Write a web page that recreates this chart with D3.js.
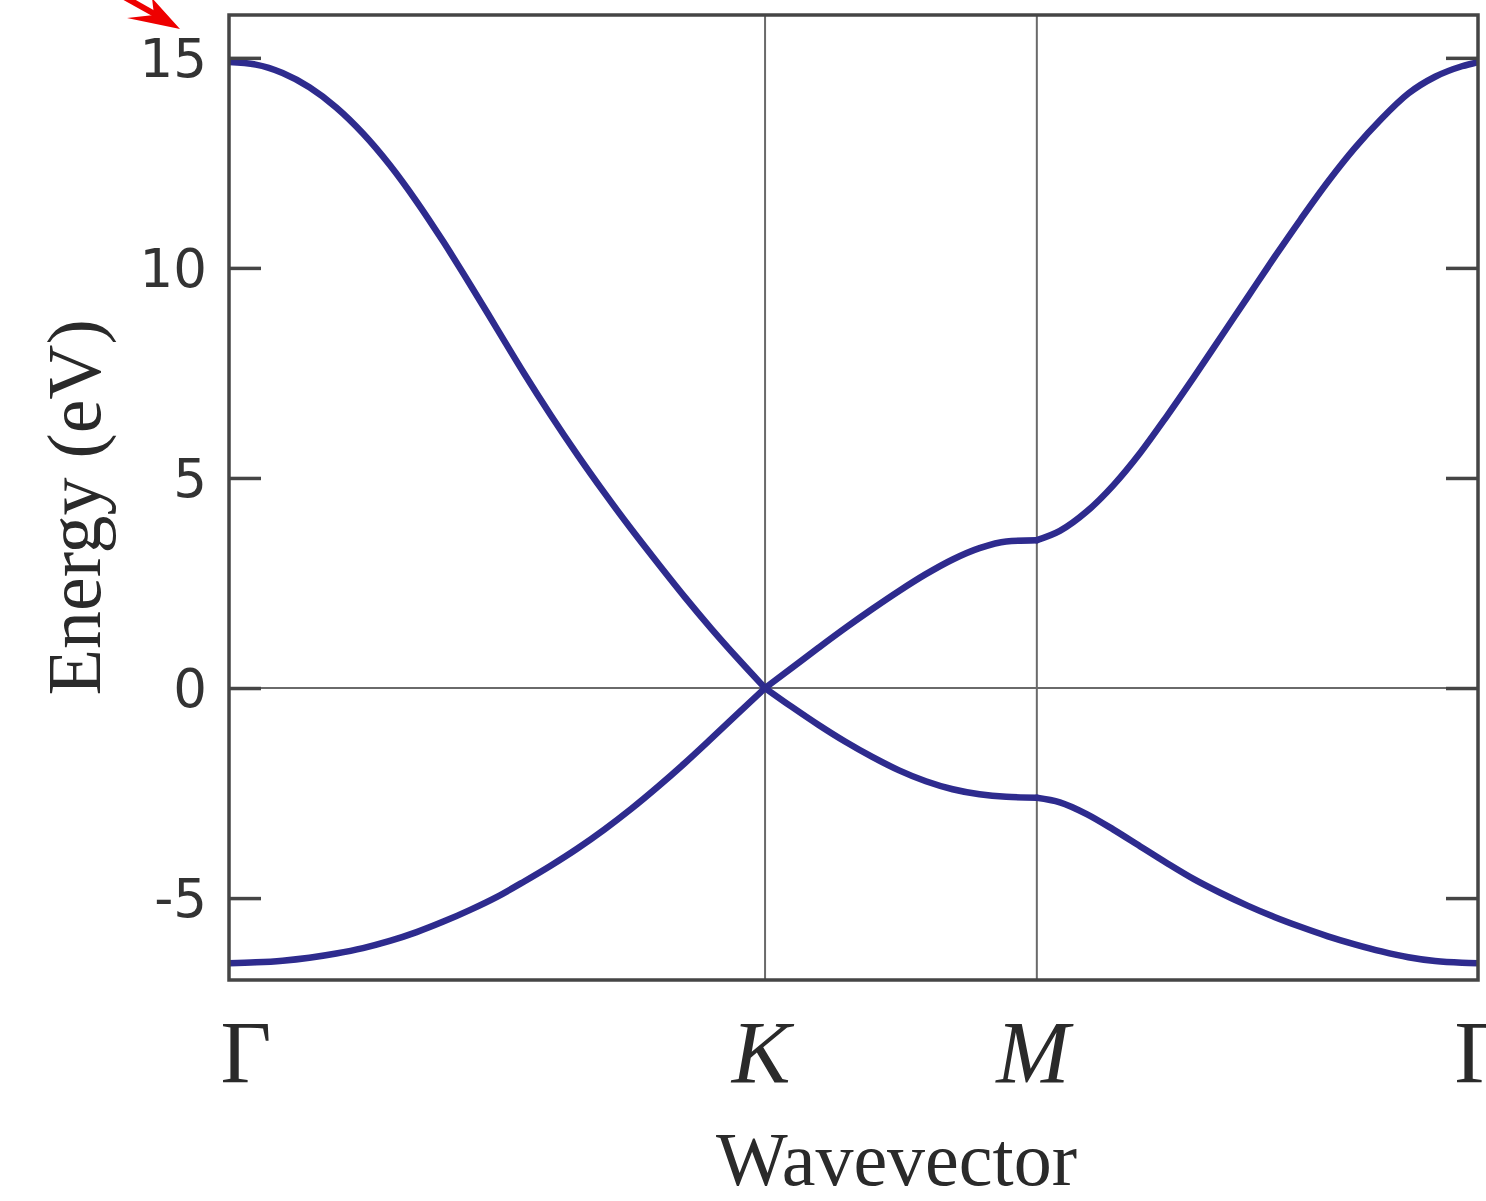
<!DOCTYPE html>
<html>
<head>
<meta charset="utf-8">
<script src="https://cdn.jsdelivr.net/npm/d3@7"></script>
<style>
  html, body { margin: 0; padding: 0; background: #ffffff; }
  svg { display: block; }
</style>
</head>
<body>
<svg id="chart" width="1486" height="1201"></svg>
<script>
// Graphene band structure along the Γ–K–M–Γ path.

// Path coordinate (Γ–K length = 1)
const kPath = [
  0, 0.05, 0.1, 0.15, 0.2, 0.25, 0.3, 0.35, 0.4, 0.45, 0.5,
  0.55, 0.6, 0.65, 0.7, 0.75, 0.8, 0.85, 0.9, 0.95, 1.0,
  1.05, 1.1, 1.15, 1.2, 1.25, 1.3, 1.35, 1.4, 1.45, 1.507,
  1.55, 1.6, 1.65, 1.7, 1.75, 1.8, 1.85, 1.9, 1.95, 2.0,
  2.05, 2.1, 2.15, 2.2, 2.25, 2.3, 2.33
];

// π* (conduction) band, eV
const upperBand = [
  14.9, 14.84, 14.64, 14.3, 13.82, 13.2, 12.45, 11.58, 10.62, 9.6, 8.55,
  7.5, 6.5, 5.55, 4.65, 3.79, 2.97, 2.17, 1.41, 0.69, 0,
  0.48, 0.96, 1.43, 1.88, 2.31, 2.71, 3.06, 3.33, 3.49, 3.52,
  3.74, 4.2, 4.83, 5.6, 6.48, 7.4, 8.35, 9.3, 10.25, 11.17,
  12.05, 12.85, 13.55, 14.15, 14.55, 14.8, 14.9
];

// π (valence) band, eV
const lowerBand = [
  -6.55, -6.53, -6.49, -6.42, -6.32, -6.19, -6.02, -5.81, -5.56, -5.28, -4.97,
  -4.61, -4.23, -3.82, -3.37, -2.88, -2.35, -1.79, -1.2, -0.6, 0,
  -0.45, -0.88, -1.28, -1.64, -1.96, -2.22, -2.41, -2.53, -2.59, -2.61,
  -2.72, -3.0, -3.37, -3.77, -4.17, -4.55, -4.88, -5.18, -5.45, -5.69,
  -5.91, -6.1, -6.27, -6.41, -6.5, -6.54, -6.55
];

// High-symmetry points
const kTickValues = [0, 1.0, 1.507, 2.33];
const kTickLabels = ["Γ", "K", "M", "Γ"];
const kTickItalic = [false, true, true, false];

// Energy axis
const energyDomain = [-6.95, 16.02];
const energyTicks = [-5, 0, 5, 10, 15];
const energyTickLabels = ["-5", "0", "5", "10", "15"];

const svg = d3.select("#chart");
const W = 1486, H = 1201;
const margin = { top: 15, right: 8, bottom: 221, left: 229 };
const x0 = margin.left, x1 = W - margin.right;
const y0 = margin.top, y1 = H - margin.bottom;

const x = d3.scaleLinear().domain([kTickValues[0], kTickValues[3]]).range([x0, x1]);
const y = d3.scaleLinear().domain(energyDomain).range([y1, y0]);

const bandColor = "#2e2b8e";
const frameColor = "#454545";
const guideColor = "#6a6a6a";

svg.append("defs").append("clipPath").attr("id", "plot-clip")
  .append("rect").attr("x", x0).attr("y", y0).attr("width", x1 - x0).attr("height", y1 - y0);

// Guide lines at K, M and E = 0
const guides = svg.append("g");
kTickValues.slice(1, 3).forEach(k => {
  guides.append("line")
    .attr("x1", x(k)).attr("x2", x(k)).attr("y1", y0).attr("y2", y1)
    .attr("stroke", guideColor).attr("stroke-width", 2);
});
guides.append("line")
  .attr("x1", x0).attr("x2", x1).attr("y1", y(0)).attr("y2", y(0))
  .attr("stroke", guideColor).attr("stroke-width", 2);

// Bands, one path piece per segment of the k-path
const line = d3.line().x(d => x(d.k)).y(d => y(d.e)).curve(d3.curveMonotoneX);
const bands = [upperBand, lowerBand];
const bandGroup = svg.append("g").attr("clip-path", "url(#plot-clip)");
bands.forEach(values => {
  const pts = kPath.map((k, i) => ({ k, e: values[i] }));
  for (let s = 0; s < kTickValues.length - 1; s++) {
    const seg = pts.filter(p => p.k >= kTickValues[s] - 1e-9 && p.k <= kTickValues[s + 1] + 1e-9);
    bandGroup.append("path")
      .datum(seg)
      .attr("d", line)
      .attr("fill", "none")
      .attr("stroke", bandColor)
      .attr("stroke-width", 6.5)
      .attr("stroke-linecap", "round")
      .attr("stroke-linejoin", "round");
  }
});

// Frame
svg.append("rect")
  .attr("x", x0).attr("y", y0).attr("width", x1 - x0).attr("height", y1 - y0)
  .attr("fill", "none").attr("stroke", frameColor).attr("stroke-width", 3.5);

// Inward ticks on left and right
const tickLen = 32;
const leftAxis = d3.axisRight(y).tickValues(energyTicks).tickSize(tickLen).tickFormat("");
const rightAxis = d3.axisLeft(y).tickValues(energyTicks).tickSize(tickLen).tickFormat("");
[[leftAxis, x0], [rightAxis, x1]].forEach(([ax, pos]) => {
  const g = svg.append("g").attr("transform", `translate(${pos},0)`).call(ax);
  g.select(".domain").remove();
  g.selectAll(".tick line").attr("stroke", frameColor).attr("stroke-width", 3.5);
});

// Energy tick labels
svg.append("g").selectAll("text")
  .data(energyTicks)
  .join("text")
  .attr("x", x0 - 22)
  .attr("y", d => y(d))
  .attr("dy", "0.36em")
  .attr("text-anchor", "end")
  .attr("font-family", "'DejaVu Sans', sans-serif")
  .attr("font-size", 53)
  .attr("fill", "#333333")
  .text((d, i) => energyTickLabels[i]);

// High-symmetry point labels
svg.append("g").selectAll("text")
  .data(kTickValues)
  .join("text")
  .attr("x", d => x(d))
  .attr("dx", (d, i) => i === 0 ? 17 : (i === 3 ? 2 : -4))
  .attr("y", y1 + 102)
  .attr("text-anchor", "middle")
  .attr("font-family", "'Liberation Serif', 'Times New Roman', serif")
  .attr("font-size", 88)
  .attr("font-style", (d, i) => kTickItalic[i] ? "italic" : "normal")
  .attr("fill", "#2a2a2a")
  .text((d, i) => kTickLabels[i]);

// Axis titles
svg.append("text")
  .attr("x", (x0 + x1) / 2 + 43)
  .attr("y", y1 + 205)
  .attr("text-anchor", "middle")
  .attr("font-family", "'Liberation Serif', 'Times New Roman', serif")
  .attr("font-size", 76)
  .attr("fill", "#2a2a2a")
  .text("Wavevector");

svg.append("text")
  .attr("transform", `translate(${x0 - 129},${y(4.3)}) rotate(-90)`)
  .attr("text-anchor", "middle")
  .attr("font-family", "'Liberation Serif', 'Times New Roman', serif")
  .attr("font-size", 76)
  .attr("fill", "#2a2a2a")
  .text("Energy (eV)");

// Red pointer toward the top of the energy axis
const tipX = x0 - 49, tipY = y0 + 14;
const arrow = svg.append("g").attr("fill", "#ee0000").attr("stroke", "none");
arrow.append("line")
  .attr("x1", tipX - 70).attr("y1", tipY - 40)
  .attr("x2", tipX - 20).attr("y2", tipY - 12)
  .attr("stroke", "#ee0000").attr("stroke-width", 6);
arrow.append("path")
  .attr("d", `M${tipX},${tipY} L${tipX - 53},${tipY - 11} L${tipX - 26},${tipY - 14} L${tipX - 28},${tipY - 31} Z`);
</script>
</body>
</html>
